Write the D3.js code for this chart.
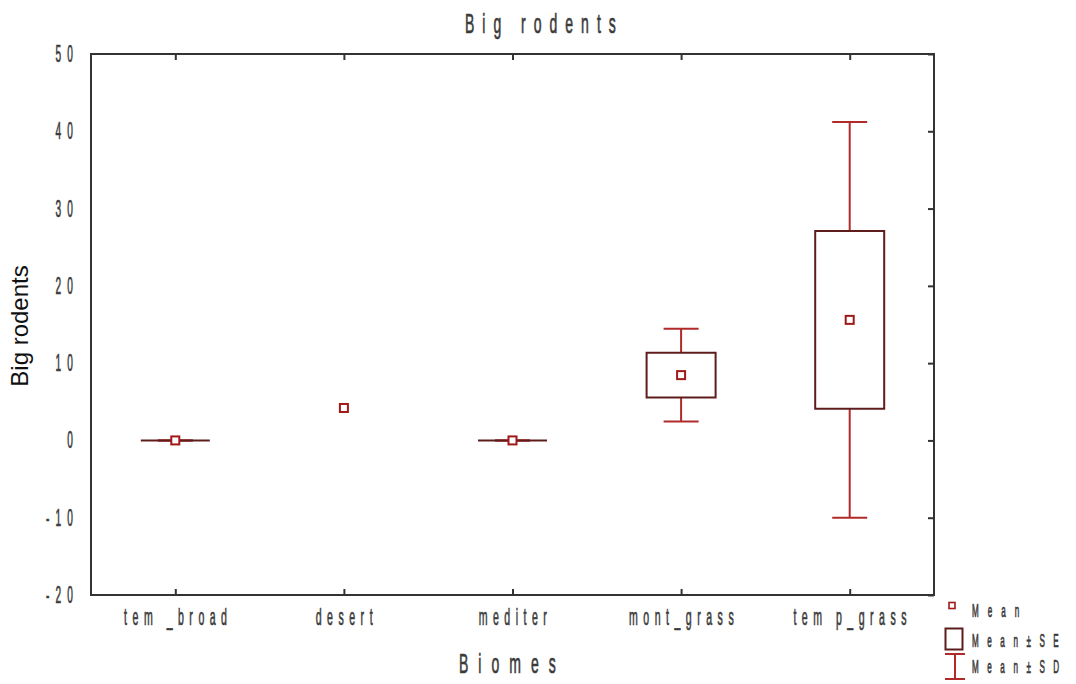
<!DOCTYPE html>
<html>
<head>
<meta charset="utf-8">
<script src="https://cdn.jsdelivr.net/npm/d3@7"></script>
<style>
  body { margin: 0; background: #fff; }
  svg { display: block; }
</style>
</head>
<body>
<div id="chart"></div>
<script>
// data
const categories = ['tem _broad', 'desert', 'mediter', 'mont_grass', 'tem p_grass'];
const means = [0, 4.2, 0, 8.45, 15.6];
const se = [0, null, 0, 2.9, 11.5];
const sd = [0, null, 0, 6.0, 25.6];
const yTicks = [-20, -10, 0, 10, 20, 30, 40, 50];

const W = 1076, H = 684;
const m = { left: 91, right: 934, top: 54, bottom: 595 };

const svg = d3.select('#chart').append('svg')
  .attr('width', W).attr('height', H);

const x = d3.scalePoint().domain(categories)
  .range([m.left, m.right]).padding(0.5);
const y = d3.scaleLinear().domain([-20, 50]).range([m.bottom, m.top]);

const axisColor = '#333';
const txtColor = '#3a3a3a';
const boxColor = '#5e1c1c';
const whiskColor = '#b02a2a';
const meanColor = '#a01818';

// squeezed, spaced text like the original export
const spaced = (g, str, px, py, size, sx, ls, anchor, fill) => {
  return g.append('text')
    .attr('transform', `translate(${px},${py}) scale(${sx},1)`)
    .attr('text-anchor', anchor)
    .style('font-family', '"Liberation Sans", Arial, sans-serif')
    .style('font-size', size + 'px')
    .style('letter-spacing', ls + 'px')
    .attr('fill', fill || txtColor)
    .attr('stroke', fill || txtColor)
    .attr('stroke-width', 0.7)
    .text(str);
};

// frame
svg.append('rect')
  .attr('x', m.left).attr('y', m.top)
  .attr('width', m.right - m.left).attr('height', m.bottom - m.top)
  .attr('fill', 'none').attr('stroke', axisColor).attr('stroke-width', 2);

// inward ticks: top, bottom, right
const tickStyle = (g) => {
  g.select('.domain').remove();
  g.selectAll('line').attr('stroke', axisColor).attr('stroke-width', 2);
  g.selectAll('text').remove();
};
svg.append('g').attr('transform', `translate(0,${m.top})`)
  .call(d3.axisBottom(x).tickSize(6)).call(tickStyle);
svg.append('g').attr('transform', `translate(0,${m.bottom})`)
  .call(d3.axisTop(x).tickSize(6)).call(tickStyle);
svg.append('g').attr('transform', `translate(${m.right},0)`)
  .call(d3.axisLeft(y).tickValues(yTicks).tickSize(6)).call(tickStyle);

// y tick labels
const yl = svg.append('g');
yTicks.forEach((t) => {
  spaced(yl, String(t), 79, y(t) + 8, 23, 0.44, 14, 'end');
});

// x tick labels
const xl = svg.append('g');
categories.forEach((c) => {
  spaced(xl, c, x(c) + 3, 625, 24, 0.44, 12.5, 'middle');
});

// titles
spaced(svg, 'Big rodents', 465, 33, 28, 0.5, 16, 'start');
spaced(svg, 'Biomes', 459, 673, 28, 0.5, 20, 'start');

svg.append('text')
  .attr('transform', `translate(28,326) rotate(-90)`)
  .attr('text-anchor', 'middle')
  .style('font-family', '"Liberation Sans", Arial, sans-serif')
  .style('font-size', '24px')
  .attr('fill', '#111')
  .text('Big rodents');

// marks
const rows = categories.map((c, i) => ({ c, mean: means[i], se: se[i], sd: sd[i] }));
const plot = svg.append('g');
const boxHalf = 34.5, capHalf = 17.5;

rows.filter((d) => d.sd !== null).forEach((d) => {
  const cx = x(d.c);
  const g = plot.append('g').attr('stroke', whiskColor).attr('stroke-width', 2);
  g.append('line').attr('x1', cx).attr('x2', cx)
    .attr('y1', y(d.mean + d.sd)).attr('y2', y(d.mean - d.sd));
  [d.mean + d.sd, d.mean - d.sd].forEach((v) => {
    g.append('line').attr('x1', cx - capHalf).attr('x2', cx + capHalf)
      .attr('y1', y(v)).attr('y2', y(v));
  });
});

// SE box as a closed path so a zero-height box still shows as a line
rows.filter((d) => d.se !== null).forEach((d) => {
  const cx = x(d.c);
  const y0 = y(d.mean + d.se), y1 = y(d.mean - d.se);
  const p = d3.path();
  p.moveTo(cx - boxHalf, y0);
  p.lineTo(cx + boxHalf, y0);
  p.lineTo(cx + boxHalf, y1);
  p.lineTo(cx - boxHalf, y1);
  p.closePath();
  plot.append('path').attr('d', p.toString())
    .attr('fill', '#fff').attr('stroke', boxColor).attr('stroke-width', 2);
});

plot.selectAll('rect.mean')
  .data(rows)
  .enter()
  .append('rect')
  .attr('class', 'mean')
  .attr('x', (d) => x(d.c) - 4)
  .attr('y', (d) => y(d.mean) - 4)
  .attr('width', 8).attr('height', 8)
  .attr('fill', '#fff').attr('stroke', meanColor).attr('stroke-width', 2);

// legend
const lg = svg.append('g');
lg.append('rect').attr('x', 949).attr('y', 602.5).attr('width', 6).attr('height', 6)
  .attr('fill', '#fff').attr('stroke', meanColor).attr('stroke-width', 1.6);
lg.append('rect').attr('x', 945.5).attr('y', 628.5).attr('width', 17).attr('height', 21)
  .attr('fill', '#fff').attr('stroke', boxColor).attr('stroke-width', 2);
lg.append('line').attr('x1', 955).attr('x2', 955).attr('y1', 654).attr('y2', 679)
  .attr('stroke', whiskColor).attr('stroke-width', 2);
[654, 679].forEach((v) => {
  lg.append('line').attr('x1', 945).attr('x2', 965).attr('y1', v).attr('y2', v)
    .attr('stroke', whiskColor).attr('stroke-width', 2);
});
spaced(lg, 'Mean', 972, 617, 18, 0.45, 20, 'start');
spaced(lg, 'Mean±SE', 972, 647, 18, 0.45, 19, 'start');
spaced(lg, 'Mean±SD', 972, 673, 18, 0.45, 19, 'start');
</script>
</body>
</html>
